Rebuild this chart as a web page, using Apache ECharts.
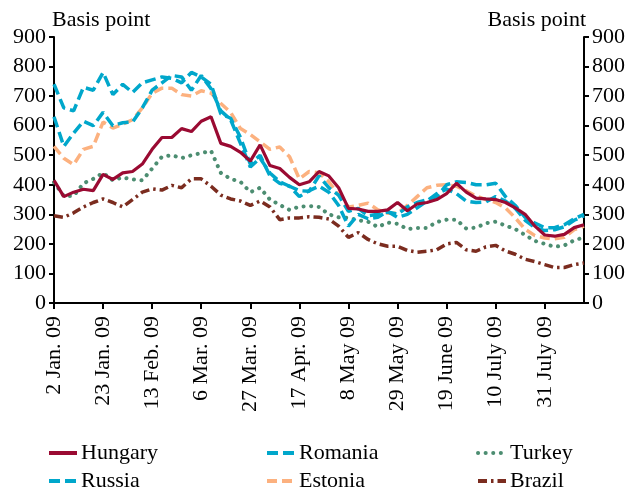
<!DOCTYPE html>
<html>
<head>
<meta charset="utf-8">
<script src="https://cdn.jsdelivr.net/npm/echarts@6/dist/echarts.min.js"></script>
<style>
  * { margin: 0; padding: 0; }
  body { background: #fff; }
</style>
</head>
<body>
<div id="main" style="width:630px;height:488px;"></div>
<script>
// every third business day from 2 Jan. 09
var categories = [];
(function () {
    var d = new Date(2009, 0, 2);
    var count = 0;
    categories.push('2009-01-02');
    while (categories.length < 55) {
        d.setDate(d.getDate() + 1);
        if (d.getDay() === 0 || d.getDay() === 6) continue;
        count++;
        if (count % 3 === 0) {
            categories.push(d.getFullYear() + '-' + (d.getMonth() + 1) + '-' + d.getDate());
        }
    }
})();

var tickLabels = ['2 Jan. 09', '23 Jan. 09', '13 Feb. 09', '6 Mar. 09', '27 Mar. 09', '17 Apr. 09',
    '8 May 09', '29 May 09', '19 June 09', '10 July 09', '31 July 09'];

var hungary = [415, 360, 375, 385, 380, 435, 418, 440, 445, 470, 520, 560, 560, 590, 580, 615, 630, 540, 530, 510,
    480, 535, 465, 455, 425, 400, 410, 445, 430, 390, 320, 318, 310, 310, 315, 340, 312, 335, 340, 350,
    370, 405, 375, 355, 352, 350, 340, 322, 300, 260, 230, 226, 232, 255, 265];
var romania = [630, 530, 575, 615, 600, 645, 600, 610, 612, 660, 720, 745, 770, 765, 720, 770, 725, 650, 620, 540,
    460, 490, 440, 410, 395, 360, 380, 395, 375, 330, 260, 300, 285, 290, 310, 290, 300, 322, 345, 370,
    385, 370, 345, 340, 342, 360, 345, 320, 280, 255, 245, 248, 258, 280, 295];
var turkey = [408, 362, 362, 405, 420, 440, 415, 425, 418, 415, 455, 495, 500, 490, 500, 507, 515, 440, 420, 410,
    375, 390, 350, 332, 315, 326, 328, 325, 300, 290, 288, 280, 275, 257, 272, 268, 250, 254, 254, 274,
    282, 282, 252, 255, 270, 275, 262, 250, 230, 210, 200, 190, 195, 212, 222];
var russia = [740, 660, 650, 730, 720, 780, 705, 740, 712, 745, 755, 765, 760, 745, 780, 765, 740, 640, 625, 560,
    470, 500, 430, 405, 395, 380, 378, 430, 390, 365, 310, 320, 295, 300, 308, 300, 325, 340, 350, 360,
    400, 410, 408, 400, 400, 405, 360, 330, 290, 270, 255, 255, 265, 285, 300];
var estonia = [530, 490, 468, 520, 530, 612, 592, 605, 620, 660, 710, 727, 727, 705, 700, 718, 710, 675, 645, 590,
    570, 545, 520, 528, 495, 420, 445, 440, 410, 365, 325, 330, 338, 315, 304, 304, 330, 360, 390, 398,
    400, 395, 380, 362, 350, 340, 322, 288, 250, 228, 220, 217, 222, 248, 260];
var brazil = [295, 290, 305, 325, 340, 352, 340, 325, 350, 375, 386, 382, 398, 390, 420, 420, 395, 365, 352, 345,
    330, 345, 325, 282, 288, 288, 292, 290, 284, 260, 222, 238, 215, 200, 192, 192, 178, 172, 175, 180,
    200, 205, 180, 175, 190, 195, 176, 165, 148, 140, 130, 120, 120, 130, 135];

var font = 'Liberation Serif';
var fs = 22;

function line(name, data, color, width, dash, cap) {
    return {
        name: name,
        type: 'line',
        data: data,
        symbol: 'none',
        smooth: false,
        lineStyle: { color: color, width: width, type: dash, cap: cap || 'butt' },
        itemStyle: { color: color }
    };
}

function yAx(pos) {
    return {
        type: 'value',
        position: pos,
        min: 0, max: 900, interval: 100,
        name: 'Basis point',
        nameLocation: 'end',
        nameGap: 6,
        nameTextStyle: { fontFamily: font, fontSize: fs, color: '#000', align: pos === 'left' ? 'left' : 'right',
            padding: pos === 'left' ? [0, 0, 0, -2] : [0, -2, 0, 0] },
        splitLine: { show: false },
        axisLine: { show: true, lineStyle: { color: '#000', width: 2 } },
        axisTick: { show: true, length: 5, lineStyle: { color: '#000', width: 2 } },
        axisLabel: { fontFamily: font, fontSize: fs, color: '#000', margin: 8 }
    };
}

var chart = echarts.init(document.getElementById('main'));
chart.setOption({
    animation: false,
    textStyle: { fontFamily: font },
    grid: { left: 54, right: 46, top: 37, bottom: 185 },
    legend: [
        { data: ['Hungary', 'Russia'], left: 47, top: 442 },
        { data: ['Romania', 'Estonia'], left: 265, top: 442 },
        { data: ['Turkey', 'Brazil'], left: 476, top: 442 }
    ].map(function (l) {
        l.orient = 'vertical';
        l.height = 70;
        l.width = 150;
        l.itemGap = 6;
        l.itemWidth = 28;
        l.itemHeight = 14;
        l.padding = 0;
        l.itemStyle = { opacity: 0 };
        l.lineStyle = { width: 4 };
        l.textStyle = { fontFamily: font, fontSize: fs, lineHeight: 20, color: '#000', padding: [0, 0, 0, -1] };
        return l;
    }),
    xAxis: {
        type: 'category',
        data: categories,
        boundaryGap: false,
        axisLine: { lineStyle: { color: '#000', width: 2 } },
        axisTick: { interval: 4, length: 6, lineStyle: { color: '#000', width: 2 } },
        axisLabel: {
            interval: 4,
            rotate: 90,
            margin: 13,
            fontFamily: font,
            fontSize: fs,
            color: '#000',
            formatter: function (v, i) { return tickLabels[i / 5] || ''; }
        }
    },
    yAxis: [yAx('left'), yAx('right')],
    series: [
        line('Brazil', brazil, '#7b2c1f', 3.5, [9, 4, 2.5, 4]),
        line('Turkey', turkey, '#4c8d71', 4, [0.1, 7.5], 'round'),
        line('Estonia', estonia, '#fcb17f', 3.5, [10, 5]),
        line('Romania', romania, '#00a7cb', 3.5, [11, 5]),
        line('Russia', russia, '#00a7cb', 3.5, [11, 5]),
        line('Hungary', hungary, '#9a0a32', 3.2)
    ]
});
</script>
</body>
</html>
